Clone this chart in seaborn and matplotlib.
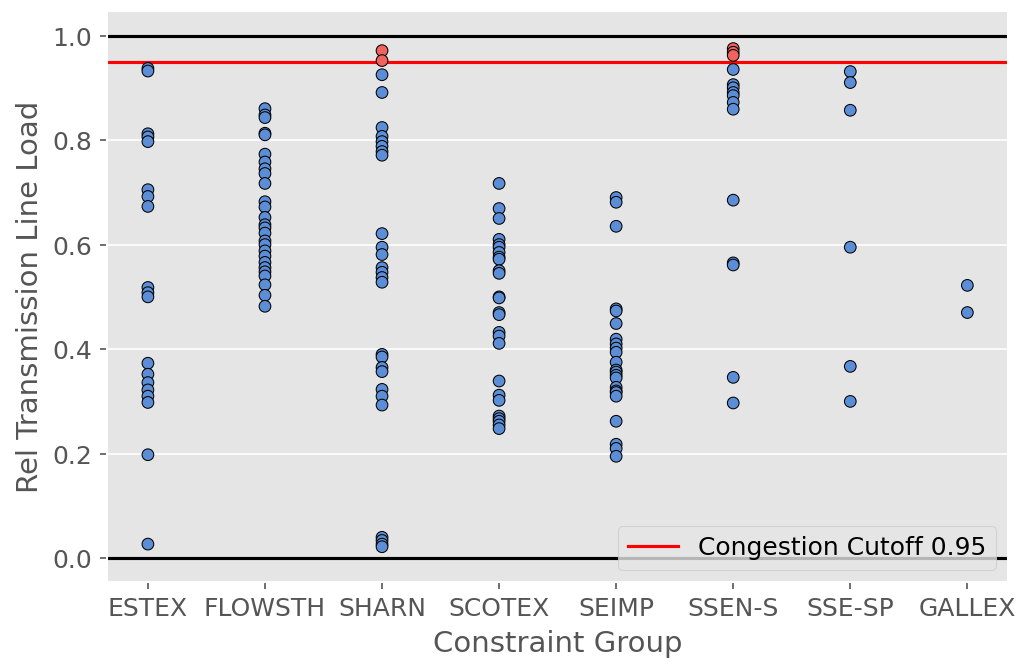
import matplotlib
matplotlib.use("Agg")
import matplotlib.pyplot as plt
import seaborn as sns
import pandas as pd

plt.style.use("ggplot")

cutoff = 0.95

groups = ["ESTEX", "FLOWSTH", "SHARN", "SCOTEX", "SEIMP", "SSEN-S", "SSE-SP", "GALLEX"]

estex = [0.937, 0.932, 0.812, 0.806, 0.797, 0.705, 0.692, 0.673, 0.518, 0.508,
         0.500, 0.373, 0.352, 0.336, 0.322, 0.310, 0.298, 0.198, 0.027]
flowsth = [0.860, 0.848, 0.843, 0.813, 0.810, 0.773, 0.758, 0.745, 0.736, 0.717,
           0.682, 0.672, 0.652, 0.638, 0.632, 0.622, 0.607, 0.600, 0.588, 0.578,
           0.566, 0.556, 0.548, 0.540, 0.523, 0.503, 0.482]
sharn = [0.971, 0.952, 0.925, 0.891, 0.824, 0.807, 0.797, 0.788, 0.778, 0.771,
         0.621, 0.595, 0.581, 0.556, 0.547, 0.537, 0.528, 0.390, 0.385, 0.365,
         0.357, 0.323, 0.310, 0.293, 0.040, 0.034, 0.027, 0.022]
scotex = [0.717, 0.669, 0.650, 0.610, 0.600, 0.595, 0.585, 0.576, 0.572, 0.550,
          0.545, 0.500, 0.498, 0.470, 0.466, 0.432, 0.425, 0.411, 0.339, 0.312,
          0.302, 0.272, 0.267, 0.262, 0.255, 0.248]
seimp = [0.690, 0.681, 0.635, 0.477, 0.473, 0.449, 0.419, 0.410, 0.402, 0.394,
         0.375, 0.360, 0.356, 0.350, 0.345, 0.327, 0.320, 0.317, 0.310, 0.262,
         0.218, 0.210, 0.195]
ssen_s = [0.975, 0.968, 0.962, 0.935, 0.906, 0.900, 0.891, 0.885, 0.872, 0.859,
          0.685, 0.565, 0.561, 0.346, 0.297]
sse_sp = [0.931, 0.910, 0.857, 0.595, 0.367, 0.300]
gallex = [0.522, 0.470]

series = [estex, flowsth, sharn, scotex, seimp, ssen_s, sse_sp, gallex]

rows = []
for g, vals in zip(groups, series):
    for v in vals:
        rows.append({"group": g, "load": v, "congested": v > cutoff})
df = pd.DataFrame(rows)

fig, ax = plt.subplots(figsize=(6.79, 4.43), dpi=150)
fig.subplots_adjust(left=0.105, right=0.990, top=0.982, bottom=0.123)

sns.stripplot(data=df, x="group", y="load", hue="congested", order=groups,
              hue_order=[False, True], palette={False: "#5B8ED6", True: "#F0645F"},
              jitter=False, size=5.6, edgecolor="black", linewidth=0.5,
              legend=False, ax=ax, zorder=3)

ax.axhline(1.0, color="black", linewidth=1.5, zorder=2)
ax.axhline(0.0, color="black", linewidth=1.5, zorder=2)
ax.axhline(cutoff, color="red", linewidth=1.5, zorder=2,
           label=f"Congestion Cutoff {cutoff}")

# categorical axis with the usual 5% side margins
ax.set_xlim(-0.35, len(groups) - 1 + 0.35)
ax.set_ylim(-0.046, 1.046)
ax.set_xlabel("Constraint Group", fontsize=14)
ax.set_ylabel("Rel Transmission Line Load", fontsize=14)
ax.tick_params(axis="both", labelsize=12)
ax.legend(loc="lower right", fontsize=12)

fig.savefig("out.png", dpi=150)
